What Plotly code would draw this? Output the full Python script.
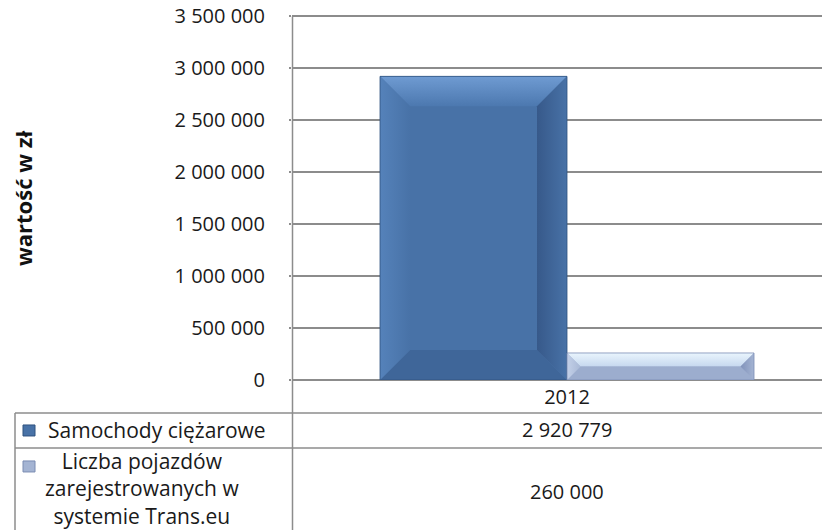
import plotly.graph_objects as go

categories = ["2012"]
series_names = ["Samochody ciężarowe", "Liczba pojazdów zarejestrowanych w systemie Trans.eu"]
series_label_lines = [["Samochody ciężarowe"], ["Liczba pojazdów", "zarejestrowanych w", "systemie Trans.eu"]]
values_trucks = [2920779]
values_transeu = [260000]
y_tick_values = [0, 500000, 1000000, 1500000, 2000000, 2500000, 3000000, 3500000]
axis_title = "wartość w zł"

FONT = "Open Sans"
OFF = 8                      # page body margin of the browser
W, H = 830 - OFF, 530 - OFF
YMAX = 3500000               # top tick value
YRANGE_TOP = 3540000         # small headroom so the top tick is kept
PLOT_BOTTOM = 380            # reference pixel row of the zero line
PLOT_TOP_TICK = 16           # reference pixel row of the top tick
PX_PER_UNIT = (PLOT_BOTTOM - PLOT_TOP_TICK) / YMAX
PLOT_TOP = PLOT_BOTTOM - YRANGE_TOP * PX_PER_UNIT
ML, MT = 292 - OFF, PLOT_TOP - OFF
MR = 0
MB = 530 - PLOT_BOTTOM
PW, PH = W - ML - MR, H - MT - MB
CAT_PX = 550.0
BARGAP = 0.32

colors = [
    dict(main="#4872A7", top_hi="#6F9BD2", top_lo="#4C78AF", left_hi="#5582BA", left_lo="#4872A7",
         right_hi="#4872A7", right_lo="#37598A", bottom="#3F6699", line="#2F527F"),
    dict(main="#A4B4D3", top_hi="#EAF5FD", top_lo="#C6D8EF", left_hi="#C3D0E8", left_lo="#A9B9D6",
         right_hi="#A4B4D3", right_lo="#8092BA", bottom="#9CADCE", line="#7A8CB2"),
]

def fmt(v):
    return f"{v:,}".replace(",", " ")

def px_to_paper_x(px):
    return (px - OFF - ML) / PW

def px_to_paper_y(py):
    return (PLOT_BOTTOM - py) / PH

fig = go.Figure()
all_series = [values_trucks, values_transeu]
for name, vals, c in zip(series_names, all_series, colors):
    fig.add_trace(go.Bar(x=categories, y=vals, name=name,
                         marker=dict(color=c["main"], line=dict(width=0)),
                         showlegend=False, hoverinfo="skip"))

# bevel facets derived from each bar's geometry (drawn on a hidden linear overlay axis)
group_w = 1 - BARGAP
bar_w = group_w / len(all_series)
ux = 1.0 / CAT_PX
uy = 1.0 / PX_PER_UNIT
for ci, _ in enumerate(categories):
    for si, (vals, c) in enumerate(zip(all_series, colors)):
        v = vals[ci]
        x0 = ci - group_w / 2 + si * bar_w
        x1 = x0 + bar_w
        hpx = v / uy
        wpx = bar_w * CAT_PX
        d = min(30.0, hpx / 2, wpx / 2)
        dx, dy = d * ux, d * uy
        y0, y1 = 0, v
        facets = [
            ([x0, x1, x1 - dx, x0 + dx], [y1, y1, y1 - dy, y1 - dy], "vertical", c["top_lo"], c["top_hi"]),
            ([x0, x1, x1 - dx, x0 + dx], [y0, y0, y0 + dy, y0 + dy], "vertical", c["bottom"], c["bottom"]),
            ([x0, x0, x0 + dx, x0 + dx], [y0, y1, y1 - dy, y0 + dy], "horizontal", c["left_hi"], c["left_lo"]),
            ([x1, x1, x1 - dx, x1 - dx], [y0, y1, y1 - dy, y0 + dy], "horizontal", c["right_lo"], c["right_hi"]),
        ]
        for fx, fy, gtype, cstart, cend in facets:
            fig.add_trace(go.Scatter(
                x=fx + [fx[0]], y=fy + [fy[0]], xaxis="x2", yaxis="y",
                mode="lines", line=dict(width=0), fill="toself",
                fillgradient=dict(type=gtype, colorscale=[[0, cstart], [1, cend]]),
                showlegend=False, hoverinfo="skip"))
        fig.add_trace(go.Scatter(
            x=[x0, x1, x1, x0, x0], y=[y0, y0, y1, y1, y0], xaxis="x2", yaxis="y",
            mode="lines", line=dict(width=0.8, color=c["line"]),
            showlegend=False, hoverinfo="skip"))

grid = "#8C8C8C"
def hline(py, x0px, x1px):
    return dict(type="line", xref="paper", yref="paper",
                x0=px_to_paper_x(x0px), x1=px_to_paper_x(x1px),
                y0=px_to_paper_y(py), y1=px_to_paper_y(py),
                line=dict(color=grid, width=1.5))
def vline(px, y0px, y1px):
    return dict(type="line", xref="paper", yref="paper",
                x0=px_to_paper_x(px), x1=px_to_paper_x(px),
                y0=px_to_paper_y(y0px), y1=px_to_paper_y(y1px),
                line=dict(color=grid, width=1.5))

# axis line runs from the top tick down through the table
shapes = [hline(413, 15, 840), hline(448, 15, 840),
          vline(292.5, PLOT_TOP_TICK, 540), vline(15, 413, 540)]

key_boxes = [(23, 425, 35, 436), (23, 461, 35, 472)]
for (kx0, ky0, kx1, ky1), c in zip(key_boxes, colors):
    shapes.append(dict(type="rect", xref="paper", yref="paper",
                       x0=px_to_paper_x(kx0), x1=px_to_paper_x(kx1),
                       y0=px_to_paper_y(ky1), y1=px_to_paper_y(ky0),
                       fillcolor=c["main"], line=dict(color=c["line"], width=1)))

annotations = []
text_color = "#1A1A1A"
tick_font = dict(family=FONT, size=20, color=text_color)
label_font = dict(family=FONT, size=21, color=text_color)
row_center_y = [430, 489]
row_center_x = [157, 142]
for lines, yc, xc in zip(series_label_lines, row_center_y, row_center_x):
    annotations.append(dict(text="<br>".join(lines), xref="paper", yref="paper",
                            x=px_to_paper_x(xc), y=px_to_paper_y(yc),
                            xanchor="center", yanchor="middle", showarrow=False,
                            font=label_font, align="center"))
value_y = [430, 492]
for vals, yc in zip(all_series, value_y):
    annotations.append(dict(text=fmt(vals[0]), xref="paper", yref="paper",
                            x=px_to_paper_x(567), y=px_to_paper_y(yc),
                            xanchor="center", yanchor="middle", showarrow=False,
                            font=tick_font))
annotations.append(dict(text=f"<b>{axis_title}</b>", xref="paper", yref="paper",
                        x=px_to_paper_x(23), y=px_to_paper_y(198), textangle=-90,
                        xanchor="center", yanchor="middle", showarrow=False,
                        font=dict(family=FONT, size=22, color="#111111")))

xr = [-0.5, -0.5 + PW / CAT_PX]
fig.update_layout(
    width=W, height=H,
    margin=dict(l=ML, r=MR, t=MT, b=MB, pad=0, autoexpand=False),
    paper_bgcolor="white", plot_bgcolor="white",
    barmode="group", bargap=BARGAP, bargroupgap=0,
    separators=". ",
    shapes=shapes, annotations=annotations,
    xaxis=dict(type="category", range=xr, automargin=False,
               showgrid=False, showline=False, ticks="", zeroline=False,
               tickfont=tick_font, ticklabelstandoff=3, fixedrange=True),
    xaxis2=dict(overlaying="x", range=xr, visible=False, fixedrange=True),
    yaxis=dict(range=[0, YRANGE_TOP], tickvals=y_tick_values, tickformat=",d",
               automargin=False,
               showgrid=True, gridcolor=grid, gridwidth=1.5,
               showline=False, ticklabeloverflow="allow",
               zeroline=True, zerolinecolor=grid, zerolinewidth=1.5,
               ticks="outside", ticklen=2, tickcolor=grid, tickwidth=1.5,
               ticklabelstandoff=20, tickfont=tick_font, fixedrange=True),
)

fig.write_html("out.html")
